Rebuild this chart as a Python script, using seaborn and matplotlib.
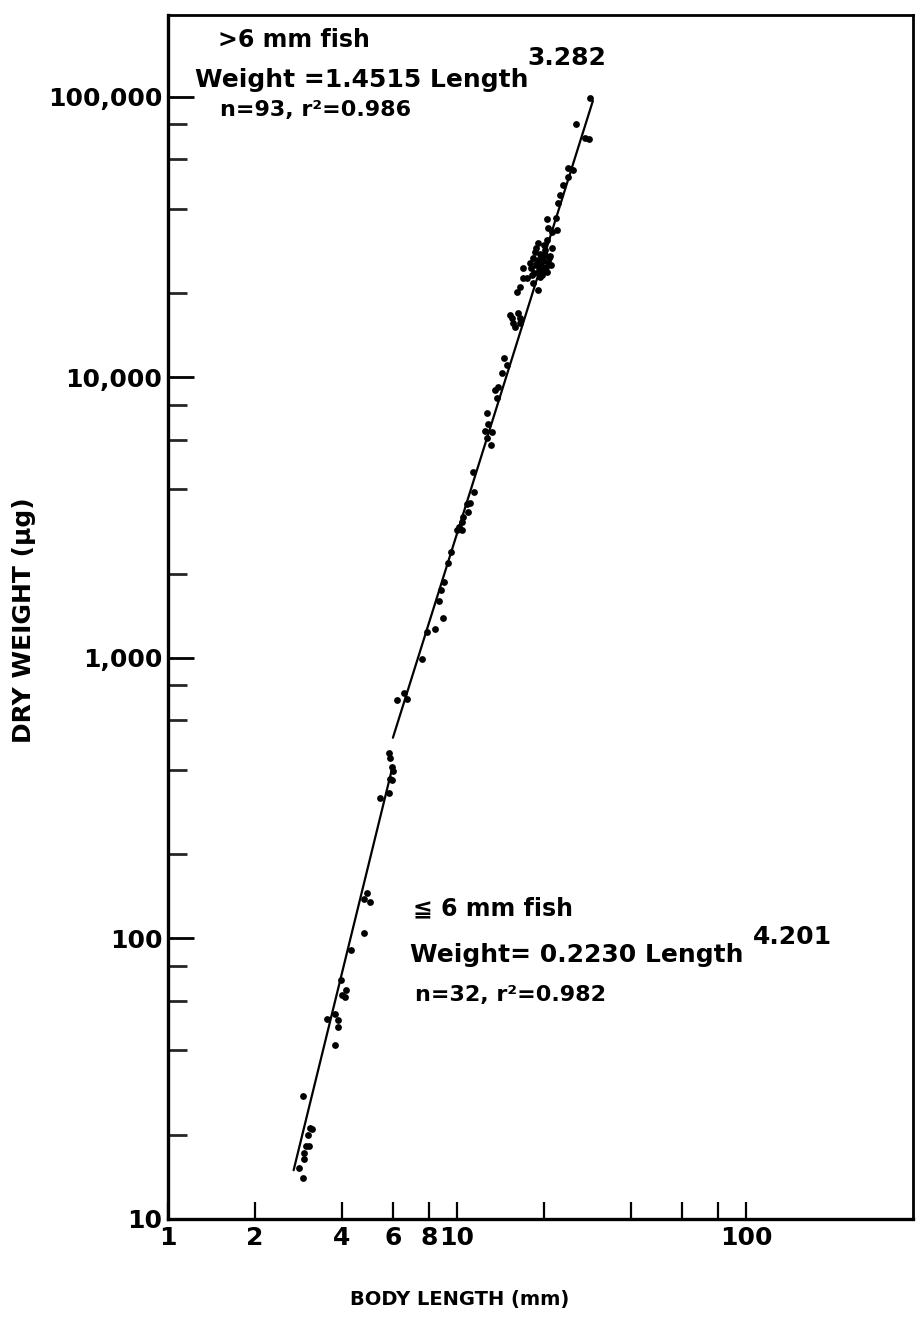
import numpy as np
import pandas as pd
import matplotlib
matplotlib.use("Agg")
import matplotlib.pyplot as plt
import seaborn as sns
from matplotlib.ticker import FixedLocator, FixedFormatter, NullFormatter

# ---------------- data ----------------
# fish <= 6 mm : body length (mm), dry weight (ug)
small_len = [3.55, 3.78, 3.88, 3.88, 3.78, 2.93, 3.10, 3.15, 3.05, 3.00,
             3.08, 2.95, 2.95, 2.84, 2.93, 4.88, 4.77, 5.00, 4.77, 4.30,
             3.97, 4.13, 4.00, 4.10, 5.82, 5.87, 5.96, 6.00, 5.87, 5.96,
             5.82, 5.42]
small_wt = [51.6, 53.8, 51.2, 48.4, 41.7, 27.4, 21.1, 20.9, 19.9, 18.2,
            18.2, 17.2, 16.4, 15.2, 14.0, 145, 138, 135, 105, 91,
            71, 65.5, 62.9, 61.9, 458, 440, 409, 395, 370, 367,
            330, 317]

# fish > 6 mm
large_len = [28.85, 25.80, 27.74, 28.62, 24.22, 25.20, 24.22, 23.27,
             22.72, 22.36, 20.48, 22.00, 20.65, 22.18, 21.31, 19.07, 20.48, 21.31,
             18.62, 19.38, 20.16, 20.98, 18.32, 19.07, 19.85, 20.65, 18.76, 19.53,
             20.32, 18.04, 19.22, 20.00, 20.81, 18.47, 19.69, 18.92, 20.16, 21.14,
             18.76, 19.69, 20.48, 17.89, 20.00,
             16.92, 17.47, 16.52, 16.13, 18.32, 19.07, 19.38, 18.18, 16.92,
             15.26, 15.63, 16.26, 16.52, 15.88, 16.52, 15.50,
             14.54, 14.89, 14.31, 13.54, 13.87, 13.75, 12.70, 12.80, 12.50, 13.22,
             12.70, 13.11, 11.36, 11.45, 11.09, 10.83, 10.92, 10.49, 10.41, 10.16,
             10.00, 10.41,
             9.53, 9.31, 9.02, 8.80,
             8.66, 8.94, 7.87, 8.39, 7.56, 6.56, 6.20, 6.71]
large_wt = [99200, 80100, 71400, 70800, 55800, 54900, 51900, 48600,
            44700, 41900, 36700, 37040, 34120, 33560, 33010, 30170, 30920, 28960,
            28020, 27560, 27340, 27110, 26670, 26240, 26020, 25810, 25180, 24980,
            24770, 24570, 24170, 23980, 26670, 23590, 23200, 25810, 28480, 25180,
            28960, 26670, 23780, 25600, 29680,
            24570, 22640, 21020, 20170, 21730, 20500, 22830, 23200, 22640,
            16700, 15640, 16980, 16300, 15140, 15640, 16300,
            11730, 11080, 10370, 9030, 9250, 8450, 7470, 6830, 6450, 6390,
            6090, 5750, 4606, 3907, 3570, 3540, 3315, 3183, 3053, 2931,
            2860, 2860,
            2388, 2182, 1866, 1748,
            1597, 1389, 1238, 1269, 992, 750, 708, 714]

# fitted power laws: Weight = a * Length^b
small_a, small_b = 0.2230, 4.201
large_a, large_b = 1.4515, 3.282
small_span = [2.72, 5.95]
large_span = [6.0, 29.5]

x_ticks = [1, 2, 4, 6, 8, 10, 20, 40, 60, 80, 100]
x_labels = ["1", "2", "4", "6", "8", "10", "", "", "", "", "100"]
y_major = [10, 100, 1000, 10000, 100000]
y_major_labels = ["10", "100", "1,000", "10,000", "100,000"]
y_minor = [20, 40, 60, 80, 200, 400, 600, 800, 2000, 4000, 6000, 8000,
           20000, 40000, 60000, 80000]

# ---------------- figure ----------------
sns.set_theme(style="ticks")
plt.rcParams["font.family"] = ["DejaVu Sans", "Noto Sans CJK SC"]

fig = plt.figure(figsize=(9.19, 13.33), dpi=100)
ax = fig.add_axes([168 / 919, 1 - 1219 / 1333, (913 - 168) / 919, (1219 - 15) / 1333])

pts = pd.concat([
    pd.DataFrame({"len": small_len, "wt": small_wt, "grp": "small"}),
    pd.DataFrame({"len": large_len, "wt": large_wt, "grp": "large"}),
])
sns.scatterplot(data=pts, x="len", y="wt", color="black", s=24,
                edgecolor="black", linewidth=0, ax=ax, legend=False, zorder=3)

for span, a, b in [(small_span, small_a, small_b), (large_span, large_a, large_b)]:
    L = np.array(span)
    line = pd.DataFrame({"len": L, "wt": a * L ** b})
    sns.lineplot(data=line, x="len", y="wt", color="black", lw=1.6, ax=ax,
                 legend=False, zorder=2)

ax.set_xscale("log")
ax.set_yscale("log")
ax.set_xlim(1, 378)
ax.set_ylim(10, 196000)

ax.xaxis.set_major_locator(FixedLocator(x_ticks))
ax.xaxis.set_major_formatter(FixedFormatter(x_labels))
ax.xaxis.set_minor_locator(FixedLocator([]))
ax.yaxis.set_major_locator(FixedLocator(y_major))
ax.yaxis.set_major_formatter(FixedFormatter(y_major_labels))
ax.yaxis.set_minor_locator(FixedLocator(y_minor))
ax.yaxis.set_minor_formatter(NullFormatter())

ax.tick_params(axis="x", which="major", direction="in", length=12, width=1.6,
               pad=5, labelsize=18, colors="black")
ax.tick_params(axis="y", which="major", direction="in", length=19, width=2.0,
               pad=4, labelsize=18, colors="black")
ax.tick_params(axis="y", which="minor", direction="in", length=14, width=2.0)
for lab in ax.get_xticklabels() + ax.get_yticklabels():
    lab.set_fontweight("bold")

for side in ["left", "bottom"]:
    ax.spines[side].set_linewidth(2.4)
for side in ["top", "right"]:
    ax.spines[side].set_linewidth(2.0)
for s in ax.spines.values():
    s.set_color("black")

ax.set_xlabel("")
ax.set_ylabel("")

fig.text(460 / 919, 1 - 1300 / 1333, "BODY LENGTH (mm)", ha="center", va="center",
         fontsize=14, fontweight="bold", color="black")
fig.text(24 / 919, 1 - 620 / 1333, "DRY WEIGHT (µg)", ha="center", va="center",
         rotation=90, fontsize=18, fontweight="bold", color="black")

def note(x, y, s, size):
    fig.text(x / 919, 1 - y / 1333, s, fontsize=size, fontweight="bold",
             color="black", va="center", ha="left")

note(218, 40, ">6 mm fish", 17)
note(195, 80, "Weight =1.4515 Length", 18)
note(527, 58, "3.282", 18)
note(220, 110, "n=93, r²=0.986", 16)

note(413, 908, "≦ 6 mm fish", 17)
note(410, 955, "Weight= 0.2230 Length", 18)
note(753, 937, "4.201", 18)
note(415, 995, "n=32, r²=0.982", 16)

fig.savefig("out.png", dpi=100, facecolor="white")
